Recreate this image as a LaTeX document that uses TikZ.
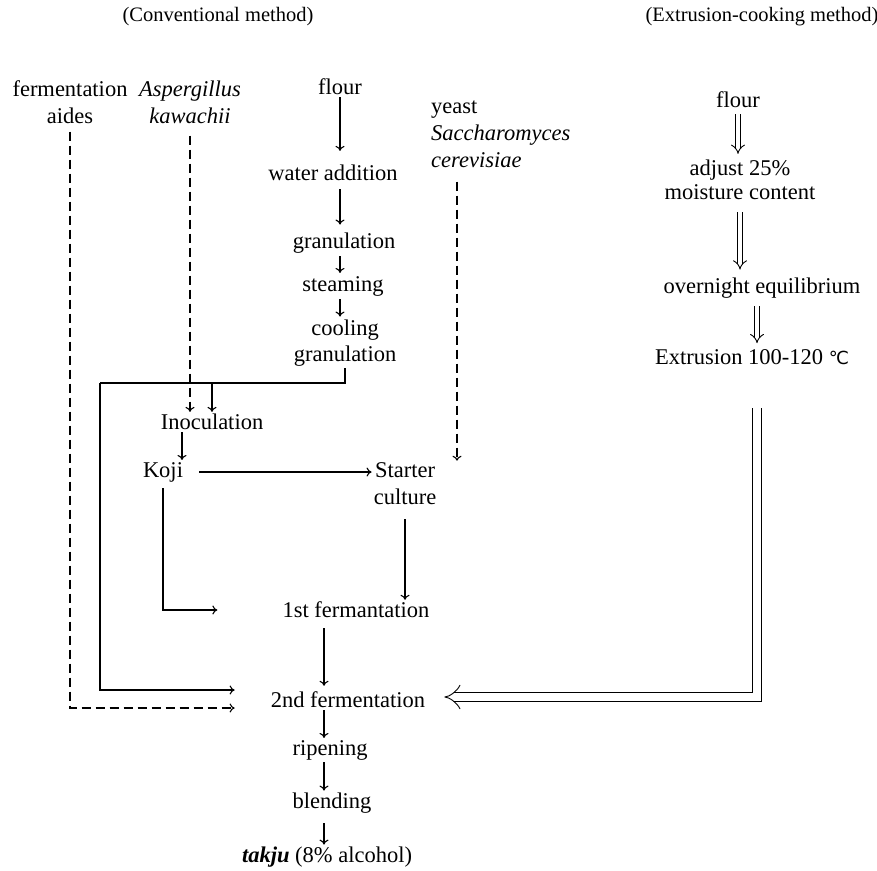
\documentclass[tikz,border=0pt]{standalone}
\usepackage{fontspec}
\setmainfont{Liberation Serif}
\newfontfamily\symbfont{DejaVu Sans}
\usetikzlibrary{arrows.meta,calc}

\tikzset{
  step text/.style={font=\fontsize{22.5}{27}\selectfont, inner sep=2pt, align=center},
  head text/.style={font=\fontsize{20.5}{24}\selectfont, inner sep=0pt},
  flow/.style={line width=1.1pt, -{To[length=5pt,width=9pt]}},
  dashflow/.style={flow, dash pattern=on 9pt off 5pt},
  plain/.style={line width=1.1pt},
  dbl/.style={line width=0.9pt, double, double distance=#1, -{Implies}},
  dbl/.default=4pt
}

\begin{document}
\begin{tikzpicture}[x=1pt,y=-1pt]
      \useasboundingbox (0,0) rectangle (877,870);

      % headings
      \node[head text] (conv) at (218,17) {(Conventional method)};
      \node[head text] (extr) at (762,17) {(Extrusion-cooking method)};

      % conventional method
      \node[step text] (aides) at (70,102) {fermentation\\aides};
      \node[step text] (asper) at (190,102) {\itshape Aspergillus\\\itshape kawachii};
      \node[step text] (flourA) at (340,87) {flour};
      \node[step text, align=left, anchor=west] (yeast) at (429,134)
        {yeast\\\itshape Saccharomyces\\\itshape cerevisiae};
      \node[step text] (water) at (333,173) {water addition};
      \node[step text] (granA) at (344,243) {granulation};
      \node[step text] (steam) at (343,286) {steaming};
      \node[step text, font=\fontsize{22.5}{26}\selectfont] (cool) at (345,343) {cooling\\granulation};
      \node[step text] (inoc) at (212,422) {Inoculation};
      \node[step text] (koji) at (163,472) {Koji};
      \node[step text] (starter) at (405,484) {Starter\\culture};
      \node[step text] (ferm1) at (356,610) {1st fermantation};
      \node[step text] (ferm2) at (348,700) {2nd fermentation};
      \node[step text] (ripen) at (330,750) {ripening};
      \node[step text] (blend) at (332,803) {blending};
      \node[step text] (takju) at (327,857) {\bfseries\itshape takju\/ \mdseries\upshape(8\% alcohol)};

      % extrusion-cooking method
      \node[step text] (flourB) at (738,100) {flour};
      \node[step text, font=\fontsize{22.5}{24}\selectfont] (adjust) at (740,180) {adjust 25\%\\moisture content};
      \node[step text] (ovn) at (762,288) {overnight equilibrium};
      \node[step text] (extru) at (752,357) {Extrusion 100-120 {\symbfont\fontsize{18}{18}\selectfont ℃}};

      \coordinate (ax) at (324,0);
      \coordinate (ysx) at (457,0);
      \coordinate (jn) at (100,383);
      \coordinate (rt) at (757,408);
      \coordinate (in1) at ($(ferm2.west)+(-34,-10)$);
      \coordinate (in2) at ($(ferm2.west)+(-34,8)$);
      \coordinate (in3) at ($(ferm1.west)+(-63,0)$);

      \draw[flow, shorten >=12pt] (flourA.south) -- (flourA.south |- water.north);
      \draw[flow, shorten <=6pt, shorten >=6pt] (flourA.south |- water.south) -- (flourA.south |- granA.north);
      \draw[flow, shorten <=1pt, shorten >=1pt] (flourA.south |- granA.south) -- (flourA.south |- steam.north);
      \draw[flow, shorten <=1pt, shorten >=1pt] (flourA.south |- steam.south) -- (flourA.south |- cool.north);
      \draw[plain] (cool.south) |- (jn);
      \draw[flow] (jn) |- (in1);
      \draw[flow] (inoc.north |- jn) -- (inoc.north);
      \draw[dashflow, shorten <=10pt] (asper.south) -- (asper.south |- inoc.north);
      \draw[dashflow, shorten <=6pt] (aides.south) |- (in2);
      \draw[flow] ($(inoc.south)+(-30,0)$) -- ($(koji.north)+(19,0)$);
      \draw[flow, shorten <=14pt] (koji.east) -- (koji.east -| starter.west);
      \draw[flow, shorten <=4pt] (koji.south) |- (in3);
      \draw[dashflow, shorten <=12pt] (yeast.south -| ysx) -- (starter.north -| ysx);
      \draw[flow, shorten <=12pt] (starter.south) -- (starter.south |- ferm1.north);
      \draw[flow, shorten <=8pt, shorten >=4pt] (ferm1.south -| ax) -- (ferm2.north -| ax);
      \draw[flow] (ferm2.south -| ax) -- (ripen.north -| ax);
      \draw[flow] (ripen.south -| ax) -- (blend.north -| ax);
      \draw[flow, shorten <=8pt] (blend.south -| ax) -- (takju.north -| ax);

      \draw[dbl, shorten <=4pt, shorten >=4pt] (flourB.south) -- (flourB.south |- adjust.north);
      \draw[dbl, shorten <=10pt, shorten >=6pt] (adjust.south) -- (adjust.south |- ovn.north);
      \draw[dbl, shorten <=6pt, shorten >=4pt] (ovn.south -| rt) -- (extru.north -| rt);
      \draw[dbl=8pt, shorten >=17pt] (rt) |- ($(ferm2.east)+(0,-3)$);
\end{tikzpicture}
\end{document}
